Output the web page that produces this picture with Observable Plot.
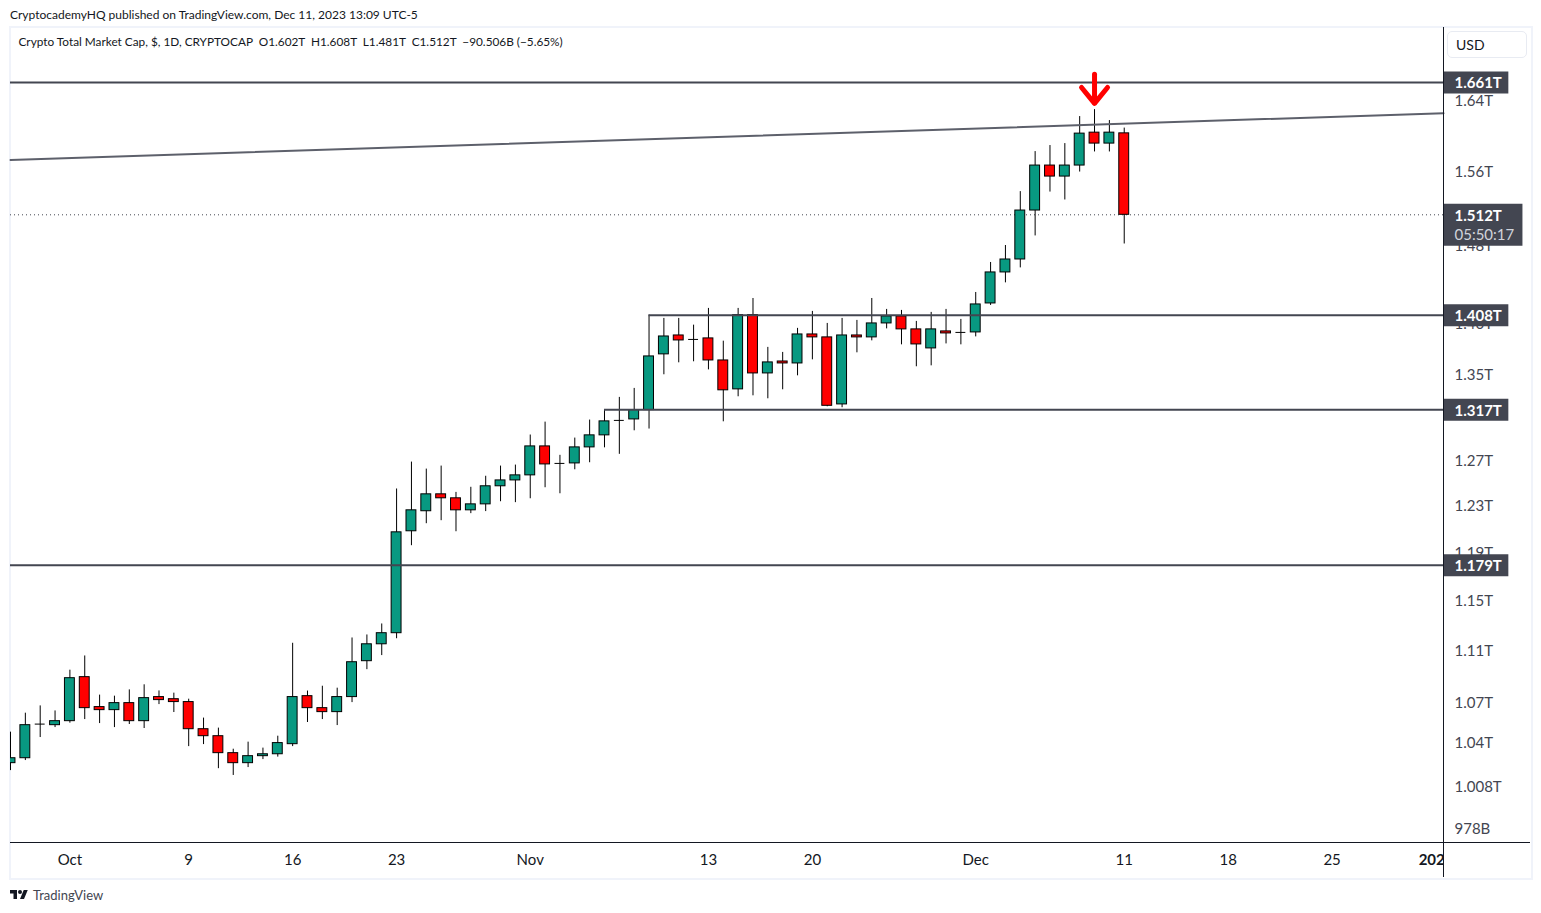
<!DOCTYPE html>
<html>
<head>
<meta charset="utf-8">
<script src="https://cdn.jsdelivr.net/npm/d3@7"></script>
<script src="https://cdn.jsdelivr.net/npm/@observablehq/plot@0.6"></script>
<style>
  body { margin: 0; background: #fff; font-family: Lato, sans-serif; color: #131722; }
  #top { position: absolute; left: 10px; top: 8px; font-size: 12px; line-height: 14px; white-space: pre; }
  #chart { position: absolute; left: 0; top: 26px; }
  #chart svg text { white-space: pre; }
  #border { position: absolute; left: 9px; top: 26px; width: 1520px; height: 850px; border: 2px solid #f0f3fa; pointer-events: none; }
  #corner { position: absolute; left: 1444px; top: 843px; width: 86px; height: 34px; background: #fff; }
  #xline { position: absolute; left: 10px; top: 842px; width: 1520px; height: 1px; background: #131722; }
  #yline { position: absolute; left: 1443px; top: 27px; width: 1px; height: 850px; background: #131722; }
  #usd { position: absolute; left: 1447px; top: 31px; width: 70px; height: 25px; border: 1px solid #e8ebf2; border-radius: 5px; padding-left: 8px; font-size: 14px; line-height: 26px; }
  #footer { position: absolute; left: 10px; top: 888px; display: flex; align-items: center; gap: 5px; font-size: 13px; line-height: 14px; color: #434651; }
</style>
</head>
<body>
<div id="top">CryptocademyHQ published on TradingView.com, Dec 11, 2023 13:09 UTC-5</div>
<div id="border"></div>
<div id="chart"></div>
<div id="corner"></div>
<div id="xline"></div>
<div id="yline"></div>
<div id="usd">USD</div>
<div id="footer">
  <svg width="18" height="14" viewBox="0 0 36 28"><path fill="#131722" d="M14 22H7V11H0V4h14v18zM28 22h-8l7.5-18h8L28 22z"/><circle fill="#131722" cx="20" cy="8" r="4"/></svg>
  <span>TradingView</span>
</div>
<script>
// daily candles from Sep 27 2023, values in trillions USD
const firstDay = Date.UTC(2023, 8, 27);
const opens = [1.0245,1.0281,1.0533,1.0525,1.0555,1.0890,1.0661,1.0638,1.0691,1.0555,1.0737,1.0721,1.0699,1.0495,1.0443,1.0318,1.0245,1.0296,1.0310,1.0384,1.0744,1.0653,1.0623,1.0737,1.1014,1.1147,1.1235,1.2078,1.2251,1.2399,1.2364,1.2259,1.2311,1.2470,1.2522,1.2567,1.2828,1.2674,1.2674,1.2819,1.2929,1.3067,1.3076,1.3163,1.3694,1.3879,1.3840,1.3850,1.3635,1.3358,1.4081,1.3510,1.3625,1.3606,1.3889,1.3860,1.3216,1.3879,1.3860,1.3998,1.4068,1.3939,1.3752,1.3919,1.3909,1.3909,1.4198,1.4514,1.4648,1.5166,1.5658,1.5536,1.5658,1.6028,1.5904,1.602];
const highs = [1.0473,1.0615,1.0670,1.0632,1.0944,1.1055,1.0752,1.0744,1.0792,1.0831,1.0784,1.0767,1.0721,1.0578,1.0503,1.0347,1.0399,1.0355,1.0443,1.1155,1.0783,1.0820,1.0805,1.1197,1.1221,1.1309,1.2446,1.2686,1.2623,1.2650,1.2416,1.2461,1.2559,1.2650,1.2659,1.2932,1.3051,1.2747,1.2904,1.3070,1.3163,1.3282,1.3367,1.4081,1.4048,1.4048,1.3981,1.4148,1.3823,1.4148,1.4248,1.3762,1.3713,1.3949,1.4118,1.3998,1.4048,1.4028,1.4248,1.4138,1.4128,1.4018,1.4108,1.4138,1.4038,1.4309,1.4617,1.4794,1.5371,1.5814,1.5882,1.5904,1.6212,1.6292,1.6166,1.608];
const lows = [1.0191,1.0264,1.0433,1.0507,1.0540,1.0567,1.0537,1.0507,1.0530,1.0500,1.0680,1.0620,1.0366,1.0381,1.0205,1.0156,1.0213,1.0271,1.0289,1.0366,1.0545,1.0567,1.0522,1.0695,1.0948,1.1058,1.1191,1.1955,1.2143,1.2169,1.2074,1.2230,1.2248,1.2334,1.2326,1.2360,1.2457,1.2404,1.2617,1.2680,1.2815,1.2756,1.2971,1.2987,1.3497,1.3612,1.3622,1.3544,1.3054,1.3288,1.3297,1.3269,1.3354,1.3487,1.3641,1.3194,1.3185,1.3709,1.3826,1.3944,1.3787,1.3574,1.3583,1.3796,1.3787,1.3865,1.4178,1.4407,1.4561,1.4895,1.5366,1.5280,1.5586,1.5810,1.5810,1.481];
const closes = [1.0281,1.0525,1.0533,1.0555,1.0882,1.0653,1.0638,1.0691,1.0555,1.0729,1.0714,1.0699,1.0495,1.0443,1.0318,1.0245,1.0296,1.0310,1.0392,1.0737,1.0653,1.0623,1.0737,1.1006,1.1147,1.1235,1.2069,1.2259,1.2399,1.2364,1.2259,1.2311,1.2470,1.2522,1.2567,1.2828,1.2665,1.2674,1.2819,1.2929,1.3058,1.3067,1.3163,1.3674,1.3869,1.3830,1.3840,1.3635,1.3349,1.4081,1.3510,1.3616,1.3606,1.3889,1.3860,1.3203,1.3879,1.3860,1.3998,1.4068,1.3939,1.3791,1.3939,1.3899,1.3909,1.4188,1.4514,1.4648,1.5166,1.5658,1.5536,1.5658,1.6017,1.5904,1.6028,1.512];

const yTickValues = [1.64, 1.56, 1.48, 1.40, 1.35, 1.27, 1.23, 1.19, 1.15, 1.11, 1.07, 1.04, 1.008, 0.978];
const xTicks = [[2023,9,1,"Oct"],[2023,9,9,"9"],[2023,9,16,"16"],[2023,9,23,"23"],[2023,10,1,"Nov"],[2023,10,13,"13"],[2023,10,20,"20"],[2023,11,1,"Dec"],[2023,11,11,"11"],[2023,11,18,"18"],[2023,11,25,"25"]];

const levels = [1.661, 1.408, 1.3165, 1.179];
const levelLabels = ["1.661T", "1.408T", "1.317T", "1.179T"];
const levelStarts = [Date.UTC(2023,8,27), Date.UTC(2023,10,9), Date.UTC(2023,10,6), Date.UTC(2023,8,27)];
const trendValues = [1.572, 1.625];
const lastPrice = 1.512;
const countdown = "05:50:17";
const legendText = "Crypto Total Market Cap, $, 1D, CRYPTOCAP  O1.602T  H1.608T  L1.481T  C1.512T  \u221290.506B (\u22125.65%)";

// red arrow over the Dec 9 candle
const arrowDay = Date.UTC(2023, 11, 9);
const arrowShaft = [1.6705, 1.6376];
const arrowHead = [1.655, 1.6364, 1.655];

const DAY = 86400000;
const xStart = new Date(firstDay);
const xEnd = new Date(Date.UTC(2024, 0, 1, 12));
const halfBody = DAY / 3;

const candles = opens.map((o, i) => ({
  date: new Date(firstDay + i * DAY),
  open: o, high: highs[i], low: lows[i], close: closes[i]
}));
const levelRows = levels.map((v, i) => ({ v, label: levelLabels[i], start: new Date(levelStarts[i]) }));

const green = "#089981";
const red = "#ff0000";
const dark = "#434651";
const wing = 21 * 3600000;

const plot = Plot.plot({
  width: 1541,
  height: 853,
  marginTop: 1,
  marginBottom: 37,
  marginLeft: 10,
  marginRight: 98,
  style: { fontFamily: "Lato, sans-serif", background: "transparent" },
  x: { type: "utc", domain: [xStart, xEnd] },
  y: { type: "log", domain: [0.9684, 1.727] },
  marks: [
    Plot.axisX({
      ticks: xTicks.map(t => new Date(Date.UTC(t[0], t[1], t[2]))),
      tickFormat: d => xTicks.find(t => Date.UTC(t[0], t[1], t[2]) === +d)[3],
      tickSize: 0, tickPadding: 12, fontSize: 15, label: null, color: "#131722"
    }),
    Plot.axisX({
      ticks: [new Date(Date.UTC(2024, 0, 1))],
      tickFormat: () => "2024",
      tickSize: 0, tickPadding: 12, fontSize: 15, fontWeight: "bold", label: null, color: "#131722"
    }),
    Plot.axisY({
      anchor: "right", ticks: yTickValues,
      tickFormat: d => d < 1 ? Math.round(d * 1000) + "B" : (d === 1.008 ? "1.008T" : d.toFixed(2) + "T"),
      tickSize: 0, tickPadding: 11, fontSize: 15, dy: 1, label: null, color: dark
    }),
    Plot.ruleY([lastPrice], { x1: xStart, x2: xEnd, stroke: dark, strokeWidth: 1, strokeDasharray: "1,3" }),
    Plot.ruleX(candles, { x: "date", y1: "low", y2: "high", stroke: "#000", strokeWidth: 1, clip: true }),
    Plot.rect(candles, {
      x1: d => new Date(+d.date - halfBody),
      x2: d => new Date(+d.date + halfBody),
      y1: "open", y2: "close",
      fill: d => d.close >= d.open ? green : red,
      stroke: "#000", strokeWidth: 1, clip: true
    }),
    // doji candles have no height, the tick keeps them visible
    Plot.ruleY(candles.filter(d => d.open === d.close), {
      y: "close",
      x1: d => new Date(+d.date - halfBody),
      x2: d => new Date(+d.date + halfBody),
      stroke: "#000", strokeWidth: 1
    }),
    Plot.line([{ d: xStart, v: trendValues[0] }, { d: xEnd, v: trendValues[1] }], { x: "d", y: "v", stroke: "#5d606b", strokeWidth: 2 }),
    Plot.ruleY(levelRows, { y: "v", x1: "start", x2: xEnd, stroke: dark, strokeWidth: 2 }),
    Plot.line(arrowShaft.map(v => ({ d: new Date(arrowDay), v })), { x: "d", y: "v", stroke: red, strokeWidth: 5 }),
    Plot.line(arrowHead.map((v, i) => ({ d: new Date(arrowDay + (i - 1) * wing), v })), { x: "d", y: "v", stroke: red, strokeWidth: 5, strokeLinecap: "round", strokeLinejoin: "round" }),
    Plot.text([legendText], { frameAnchor: "top-left", dx: 8, dy: 10, fontSize: 11.8, fill: "#131722", lineAnchor: "top" }),
    Plot.ruleY(levelRows, { y: "v", x1: xEnd, x2: new Date(+xEnd + 4.4 * DAY), stroke: dark, strokeWidth: 22 }),
    Plot.ruleY([lastPrice], { x1: xEnd, x2: new Date(+xEnd + 5.35 * DAY), dy: 10, stroke: dark, strokeWidth: 42 }),
    Plot.text(levelRows, { y: "v", x: xEnd, text: "label", dx: 11, dy: 1, textAnchor: "start", fontSize: 15, fontWeight: "bold", fill: "#fff" }),
    Plot.text([lastPrice], { y: d => d, x: xEnd, text: d => d + "T", dx: 11, dy: 1, textAnchor: "start", fontSize: 15, fontWeight: "bold", fill: "#fff" }),
    Plot.text([countdown], { y: lastPrice, x: xEnd, dx: 11, dy: 20, textAnchor: "start", fontSize: 15, fill: "#d1d4dc" })
  ]
});

document.querySelector("#chart").appendChild(plot);
</script>
</body>
</html>
